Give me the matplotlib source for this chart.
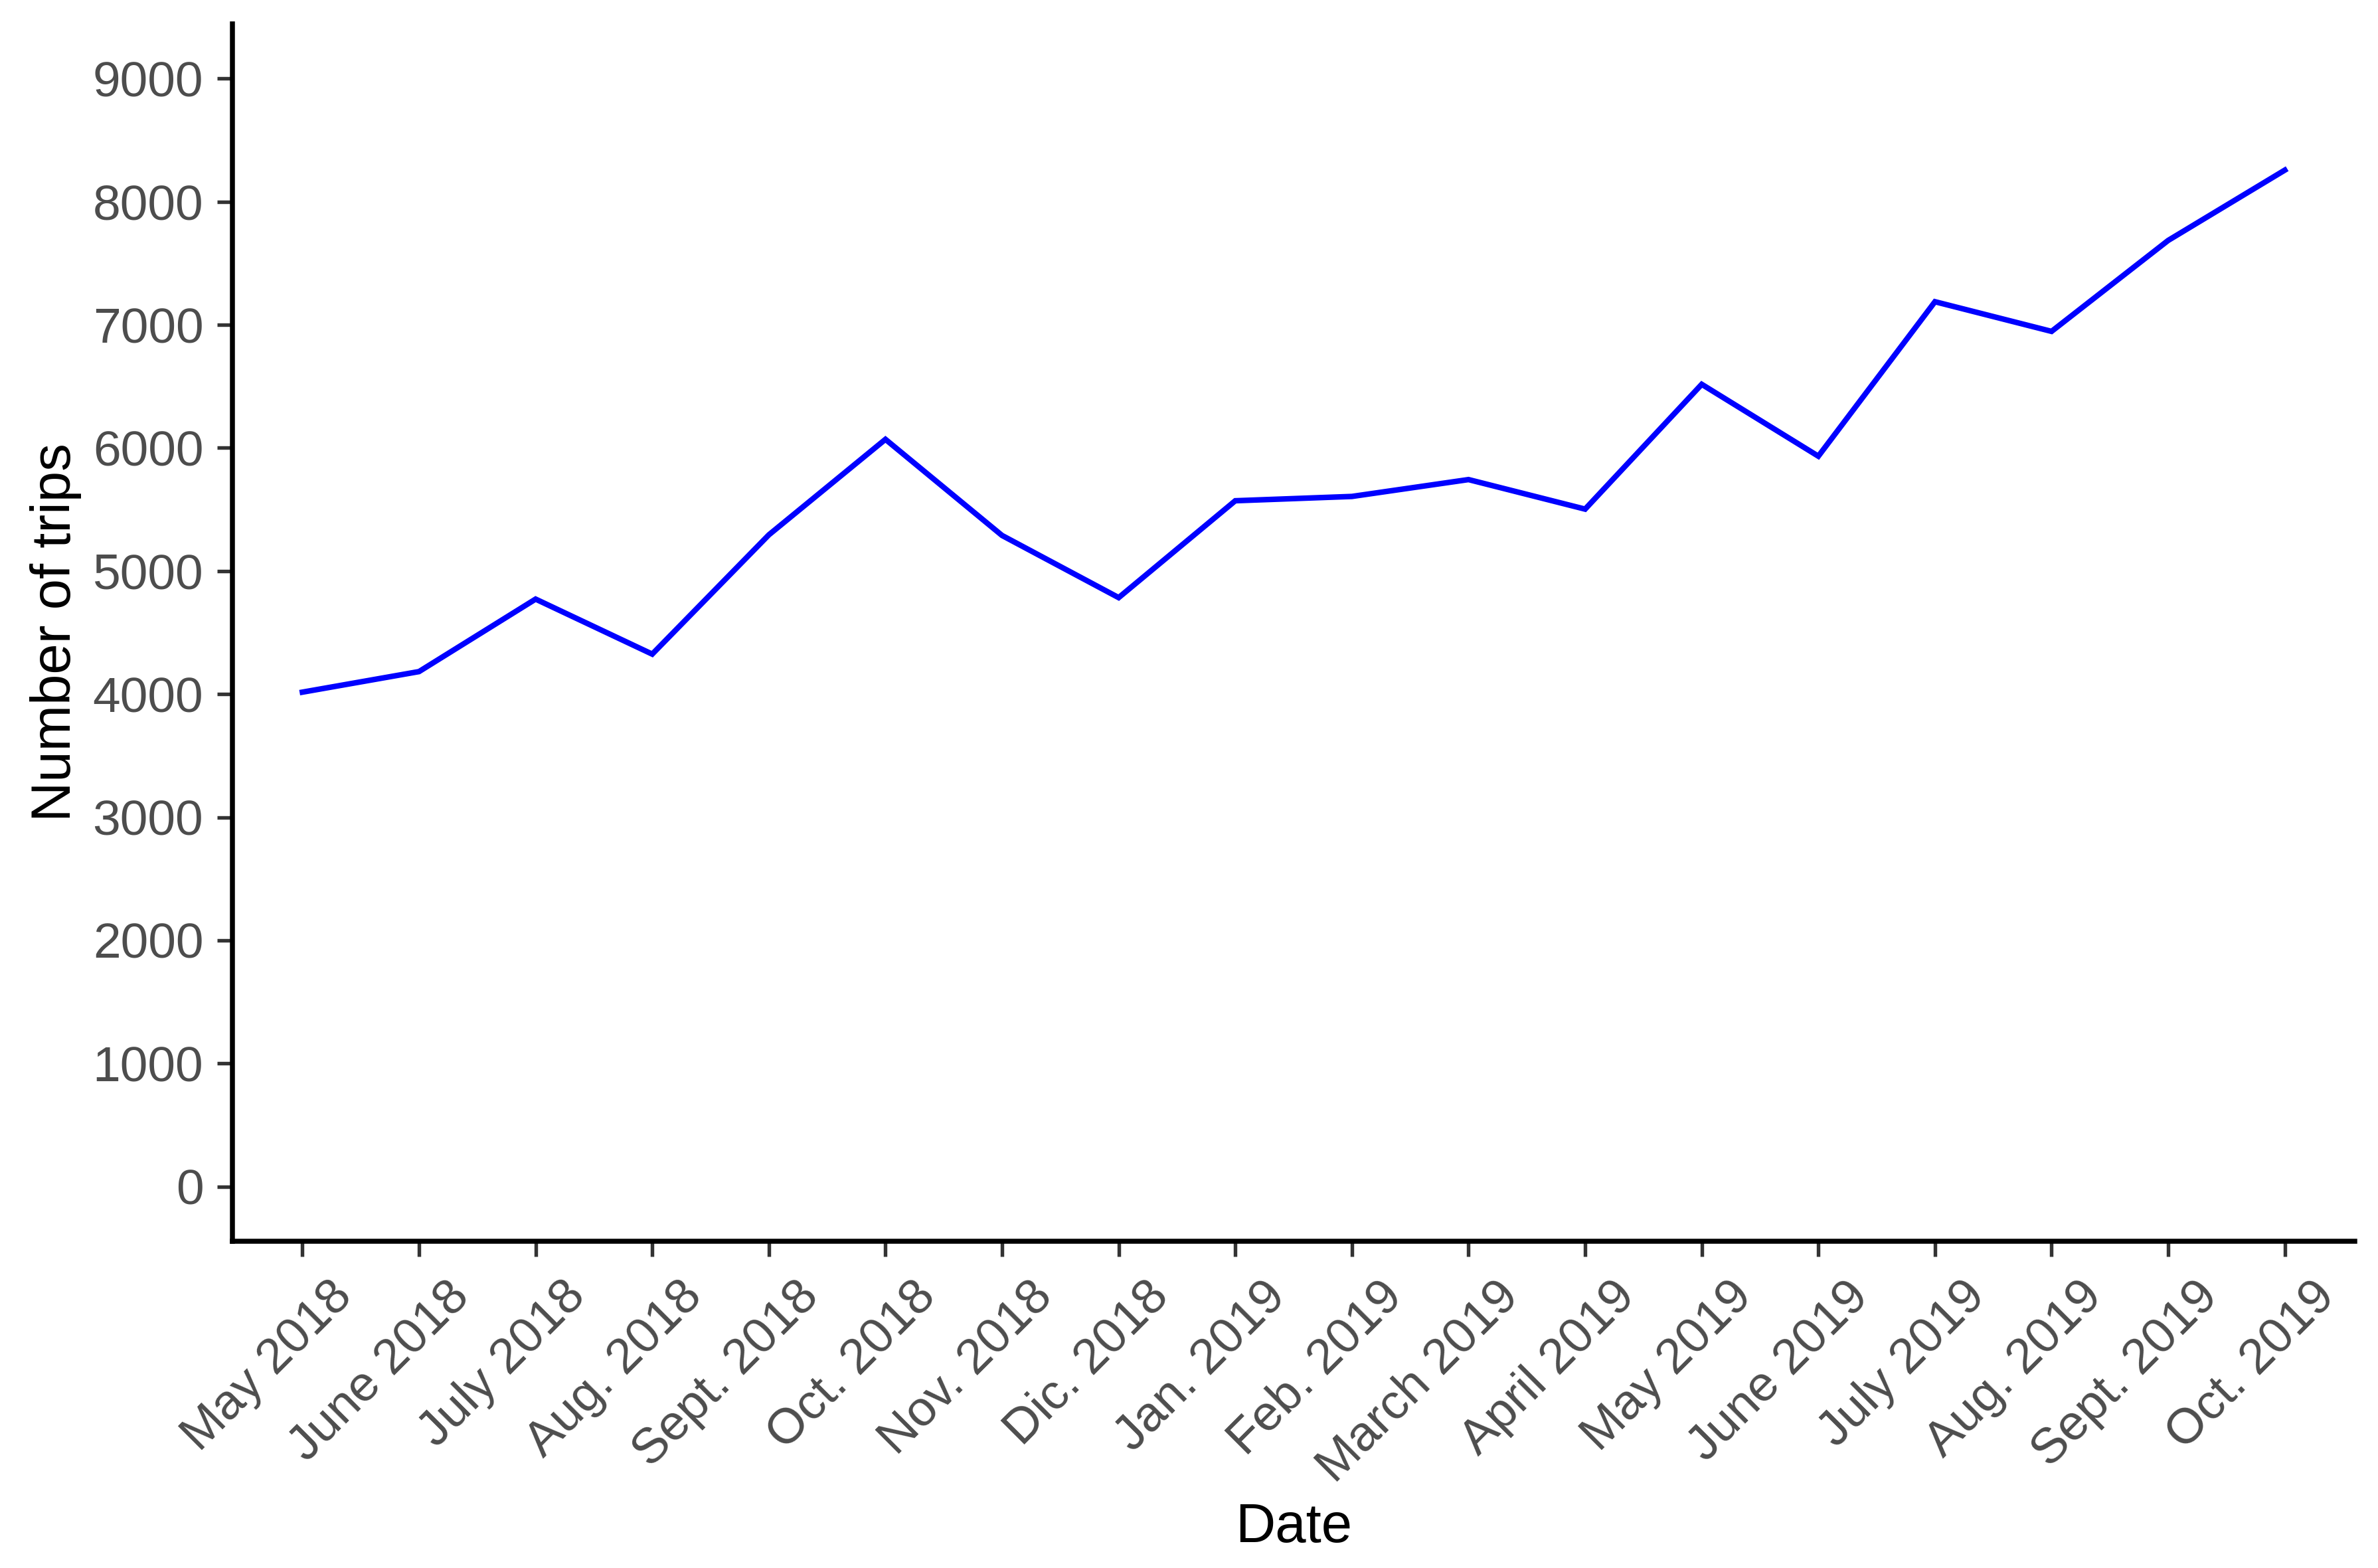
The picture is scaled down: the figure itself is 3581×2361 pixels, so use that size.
import matplotlib.pyplot as plt
from matplotlib.transforms import ScaledTranslation

# Data
months = ['May 2018', 'June 2018', 'July 2018', 'Aug. 2018', 'Sept. 2018',
          'Oct. 2018', 'Nov. 2018', 'Dic. 2018', 'Jan. 2019', 'Feb. 2019',
          'March 2019', 'April 2019', 'May 2019', 'June 2019', 'July 2019',
          'Aug. 2019', 'Sept. 2019', 'Oct. 2019']
trips = [4016, 4183, 4772, 4325, 5294, 6070, 5289, 4784, 5571, 5606,
         5743, 5503, 6517, 5933, 7188, 6947, 7686, 8257]
yticks = [0, 1000, 2000, 3000, 4000, 5000, 6000, 7000, 8000, 9000]

plt.rcParams['font.family'] = ['Liberation Sans', 'DejaVu Sans']

W, H, dpi = 3581, 2361, 300
fig = plt.figure(figsize=(W / dpi, H / dpi), dpi=dpi)
ax = fig.add_axes([350 / W, 1 - 1869 / H, (3546 - 350) / W, (1869 - 36) / H])

x = list(range(1, len(months) + 1))
ax.plot(x, trips, color='#0000FF', linewidth=2.0, solid_joinstyle='miter')

ax.set_xlim(0.4, len(months) + 0.6)
ax.set_ylim(-445, 9445)
ax.set_xticks(x)
ax.set_xticklabels(months)
ax.set_yticks(yticks)

# theme_classic look
for side in ['top', 'right']:
    ax.spines[side].set_visible(False)
for side in ['left', 'bottom']:
    ax.spines[side].set_linewidth(1.8)
    ax.spines[side].set_color('black')

ax.tick_params(axis='both', length=5.5, width=1.3, color='#333333',
               labelcolor='#4D4D4D', labelsize=18)
ax.tick_params(axis='y', pad=5)
ax.tick_params(axis='x', pad=4)

offset = ScaledTranslation(40 / dpi, -8 / dpi, fig.dpi_scale_trans)
for lab in ax.get_xticklabels():
    lab.set_rotation(45)
    lab.set_ha('right')
    lab.set_va('top')
    lab.set_rotation_mode('anchor')
    lab.set_transform(lab.get_transform() + offset)

ax.set_xlabel('Date', fontsize=20, color='black')
ax.xaxis.set_label_coords(0.5, -0.214)
ax.set_ylabel('Number of trips', fontsize=20, color='black', labelpad=4)

fig.savefig('out.png', dpi=dpi, facecolor='white')
